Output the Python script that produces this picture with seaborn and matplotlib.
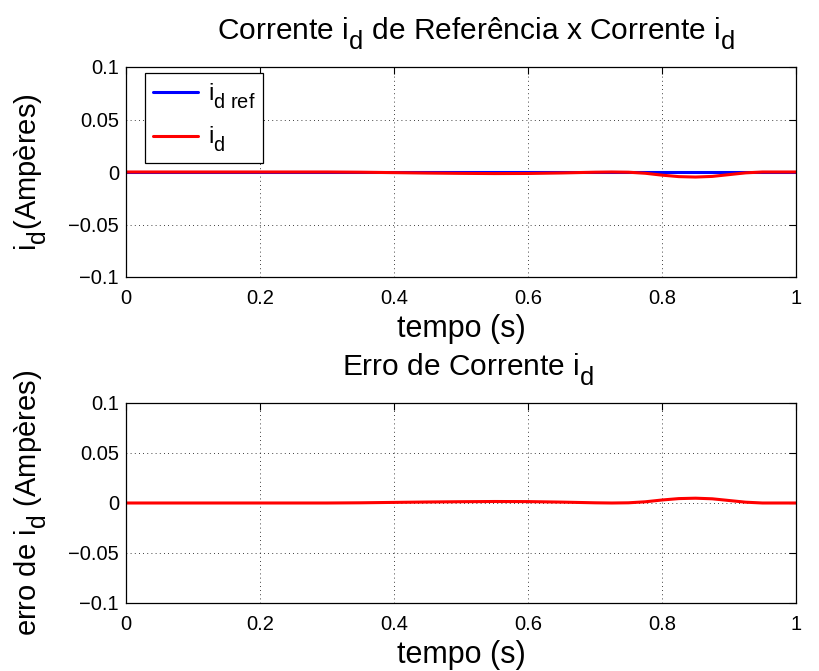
import numpy as np
import pandas as pd
import matplotlib
matplotlib.use("Agg")
import matplotlib.pyplot as plt
import seaborn as sns
from matplotlib.ticker import FixedLocator, FuncFormatter

# deeper, larger subscripts (MATLAB-like)
try:
    import matplotlib._mathtext as _mt
    _mt.FontConstantsBase.sub1 = 0.65
    _mt.FontConstantsBase.sub2 = 0.8
    _mt.SHRINK_FACTOR = 0.85
except Exception:
    pass

# ---- data ----
tempo = [0.0, 0.05, 0.1, 0.15, 0.2, 0.25, 0.3, 0.35, 0.4, 0.45, 0.5, 0.55,
         0.6, 0.65, 0.7, 0.725, 0.75, 0.775, 0.8, 0.825, 0.85, 0.875, 0.9,
         0.925, 0.95, 1.0]
id_ref = [0.0] * len(tempo)
id_med = [0.0, 0.0, 0.0, 0.0, 0.0, 0.0, 0.0, -0.0002, -0.0006, -0.0010,
          -0.0013, -0.0015, -0.0014, -0.0009, -0.0002, 0.0, -0.0002, -0.0012,
          -0.0030, -0.0044, -0.0048, -0.0042, -0.0025, -0.0008, 0.0, 0.0]
erro = [r - m for r, m in zip(id_ref, id_med)]

x_ticks = [0, 0.2, 0.4, 0.6, 0.8, 1]
y_ticks = [-0.1, -0.05, 0, 0.05, 0.1]

df = pd.DataFrame({"tempo": tempo, "id_ref": id_ref, "id": id_med, "erro": erro})

sns.set_style("white")
plt.rcParams["font.family"] = ["Liberation Sans", "DejaVu Sans"]
plt.rcParams["mathtext.fontset"] = "custom"
plt.rcParams["mathtext.rm"] = "Liberation Sans"
plt.rcParams["mathtext.it"] = "Liberation Sans"
plt.rcParams["mathtext.default"] = "regular"
plt.rcParams["text.color"] = "black"
plt.rcParams["axes.labelcolor"] = "black"
plt.rcParams["axes.titlecolor"] = "black"
plt.rcParams["xtick.color"] = "black"
plt.rcParams["ytick.color"] = "black"

fig = plt.figure(figsize=(8.19, 6.71), dpi=100)
W, H = 819, 671
ax1 = fig.add_axes([126 / W, 1 - 277 / H, 670 / W, 210 / H])
ax2 = fig.add_axes([126 / W, 1 - 603 / H, 670 / W, 200 / H])

def fmt(v, pos):
    s = "%g" % v
    return s.replace("-", "\u2212")

for ax in (ax1, ax2):
    ax.set_xlim(0, 1)
    ax.set_ylim(-0.1, 0.1)
    ax.xaxis.set_major_locator(FixedLocator(x_ticks))
    ax.yaxis.set_major_locator(FixedLocator(y_ticks))
    ax.xaxis.set_major_formatter(FuncFormatter(fmt))
    ax.yaxis.set_major_formatter(FuncFormatter(fmt))
    ax.grid(True, linestyle=(0, (1, 4)), color="black", linewidth=0.6)
    ax.tick_params(direction="in", top=True, right=True, length=5,
                   width=0.8, labelsize=14.5, colors="black")
    ax.tick_params(axis="x", pad=9)
    ax.tick_params(axis="y", pad=5)
    for sp in ax.spines.values():
        sp.set_visible(True)
        sp.set_color("black")
        sp.set_linewidth(0.9)

sns.lineplot(data=df, x="tempo", y="id_ref", ax=ax1, color="#0000ff",
             linewidth=2.2, label=r"i$_{\mathrm{d\ ref}}$")
sns.lineplot(data=df, x="tempo", y="id", ax=ax1, color="#ff0000",
             linewidth=2.2, label=r"i$_{\mathrm{d}}$")
sns.lineplot(data=df, x="tempo", y="erro", ax=ax2, color="#ff0000",
             linewidth=2.2, legend=False)

ax1.set_title(r"Corrente i$_{\mathrm{d}}$ de Referência x Corrente i$_{\mathrm{d}}$",
              fontsize=21.5, pad=20, x=0.522, color="black")
ax1.set_xlabel("tempo (s)", fontsize=22, labelpad=4, color="black")
ax1.set_ylabel(r"i$_{\mathrm{d}}$(Ampères)", fontsize=21, labelpad=14, color="black")
ax2.set_title(r"Erro de Corrente i$_{\mathrm{d}}$", fontsize=21.5, pad=20, x=0.51,
              color="black")
ax2.set_xlabel("tempo (s)", fontsize=22, labelpad=4, color="black")
ax2.set_ylabel(r"erro de i$_{\mathrm{d}}$ (Ampères)", fontsize=21, labelpad=14,
               color="black")

leg = ax1.legend(loc="upper left", bbox_to_anchor=(19 / 670, 1 - 6 / 210),
                 borderaxespad=0, fontsize=17, frameon=True, fancybox=False,
                 handlelength=1.9, handletextpad=0.4, labelspacing=0.6,
                 borderpad=0.35)
leg.get_frame().set_edgecolor("black")
leg.get_frame().set_linewidth(0.9)
leg.get_frame().set_alpha(1)
for t in leg.get_texts():
    t.set_color("black")

fig.savefig("out.png", dpi=100)
